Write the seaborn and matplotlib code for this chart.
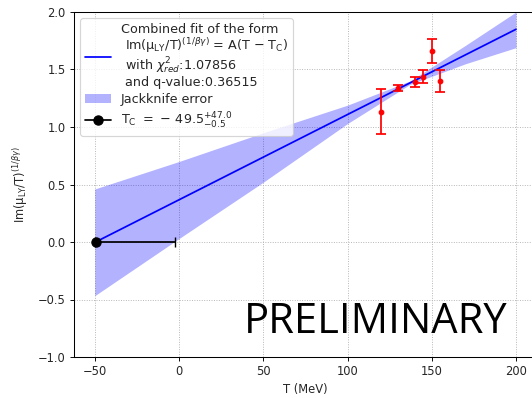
import matplotlib
matplotlib.use("Agg")
import matplotlib.pyplot as plt
from matplotlib.lines import Line2D
import seaborn as sns
import numpy as np
import pandas as pd

# ---- data ----
T_data = [120, 130, 140, 145, 150, 155]
y_data = [1.133, 1.336, 1.39, 1.437, 1.66, 1.40]
y_err = [0.195, 0.025, 0.043, 0.057, 0.105, 0.096]

T_fit = [-49.5, 200]
y_fit = [0.0, 1.85]

T_band = [-50, 0, 50, 100, 137, 170, 200]
band_lo = [-0.467, 0.03, 0.52, 1.03, 1.37, 1.55, 1.69]
band_hi = [0.461, 0.70, 0.95, 1.19, 1.40, 1.71, 2.00]

Tc_val = [-49.5]
Tc_y = [0.0]
Tc_err_minus = [0.5]
Tc_err_plus = [47.0]

fit_label = ("Combined fit of the form\n"
             r" Im(μ$_{\rm LY}$/T)$^{(1/\beta\gamma)}$ = A(T $-$ T$_{\rm C}$)" "\n"
             r" with $\chi^2_{red}$:1.07856" "\n"
             " and q-value:0.36515")
band_label = "Jackknife error"
tc_label = r"T$_{\rm C}$ $=\,-\,49.5^{+47.0}_{-0.5}$"

# ---- style ----
sns.set_style("ticks")
plt.rcParams['font.family'] = ['DejaVu Sans']
plt.rcParams['xtick.direction'] = 'out'
plt.rcParams['ytick.direction'] = 'out'

dpi = 83.125
fig = plt.figure(figsize=(532 / dpi, 398 / dpi), dpi=dpi)
ax = fig.add_axes([73.7 / 532, 41 / 398, 463.4 / 532, 345 / 398])

fit_df = pd.DataFrame({"T": T_fit, "y": y_fit})
band = ax.fill_between(T_band, band_lo, band_hi, color="blue", alpha=0.3,
                       linewidth=0, label=band_label, zorder=2)
sns.lineplot(data=fit_df, x="T", y="y", ax=ax, color="blue", linewidth=1.5,
             label=fit_label, zorder=3)
ax.errorbar(T_data, y_data, yerr=y_err, fmt="o", color="red", markersize=4,
            capsize=4, elinewidth=1.5, capthick=1.5, zorder=4)
ax.errorbar(Tc_val, Tc_y, xerr=[Tc_err_minus, Tc_err_plus], fmt="o",
            color="black", markersize=8, capsize=4, elinewidth=1.5,
            capthick=1.2, zorder=5)

ax.set_xlim(-62.5, 212.5)
ax.set_ylim(-1.0, 2.0)
ax.set_xticks([-50, 0, 50, 100, 150, 200])
ax.set_yticks([-1.0, -0.5, 0.0, 0.5, 1.0, 1.5, 2.0])
ax.grid(True, linestyle=":", color="#b0b0b0", linewidth=0.8)
ax.set_axisbelow(True)
ax.tick_params(labelsize=10, length=3.5, width=0.8, color="black", labelcolor="#262626")
for s in ax.spines.values():
    s.set_color("black")
    s.set_linewidth(0.9)
ax.set_xlabel("T (MeV)", fontsize=10, color="#262626")
ax.set_ylabel(r"Im(μ$_{\rm LY}$/T)$^{(1/\beta\gamma)}$", fontsize=10, color="#262626",
              labelpad=7)

h, l = ax.get_legend_handles_labels()
tc_handle = Line2D([], [], color="black", marker="o", markersize=8, linewidth=1.5)
handles = [h[l.index(fit_label)], h[l.index(band_label)], tc_handle]
labels = [fit_label, band_label, tc_label]
leg = ax.legend(handles, labels, loc="upper left", fontsize=11, frameon=True,
                framealpha=0.8, edgecolor="#cccccc", labelspacing=0.35)
for t in leg.get_texts():
    t.set_linespacing(1.0)

ax.text(0.937, 0.0696, "PRELIMINARY", transform=ax.transAxes, ha="right",
        va="baseline", fontsize=36, family=["Open Sans", "DejaVu Sans"], color="black")

fig.savefig("out.png", dpi=dpi)
